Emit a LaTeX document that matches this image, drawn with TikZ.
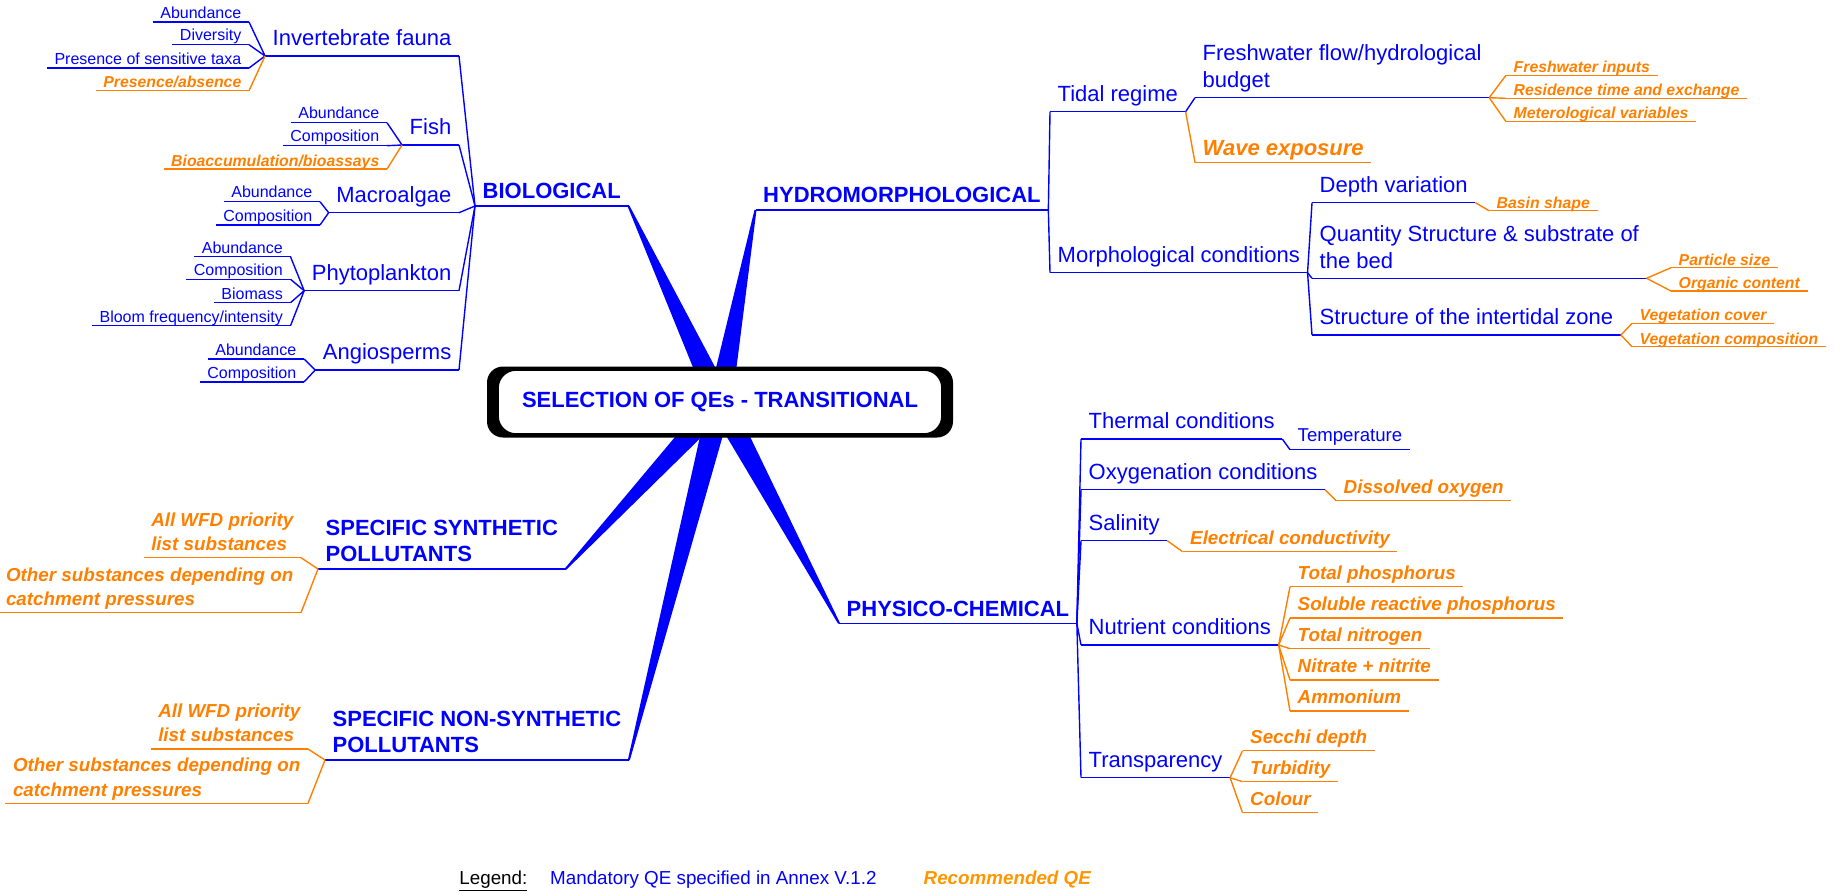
\documentclass[tikz,border=0pt]{standalone}
\usepackage{fontspec}
\setmainfont{Liberation Sans}
\usetikzlibrary{calc}
\definecolor{qeblue}{RGB}{0,0,255}
\definecolor{qeorange}{RGB}{255,128,0}
\definecolor{qeamber}{RGB}{255,150,0}
\tikzset{
  mq/.style={inner xsep=3.5pt, inner ysep=0pt, text=qeblue,
    append after command={(\tikzlastnode.south west) edge[qeblue] (\tikzlastnode.south east)}},
  rq/.style={inner xsep=3.5pt, inner ysep=0pt, text=qeorange,
    append after command={(\tikzlastnode.south west) edge[qeorange] (\tikzlastnode.south east)}},
  head/.style={mq, font=\fontsize{11}{13}\selectfont\bfseries, text depth=3.25pt, align=left},
  sub/.style={mq, font=\fontsize{11}{13.5}\selectfont, text depth=4.75pt, align=left},
  leaf/.style={mq, font=\fontsize{8}{10}\selectfont, text depth=1.5pt},
  mleaf/.style={mq, font=\fontsize{9.3}{11}\selectfont, text depth=4pt},
  rsub/.style={rq, font=\fontsize{11}{13}\selectfont\bfseries\itshape, text depth=3pt},
  rleaf/.style={rq, font=\fontsize{7.9}{9.5}\selectfont\bfseries\itshape, text depth=1pt},
  rmleaf/.style={rq, font=\fontsize{9.4}{12.2}\selectfont\bfseries\itshape, text depth=3.25pt, align=left},
  bezel/.style={fill=black, rounded corners=8pt, minimum width=233pt, minimum height=35.5pt},
  ctr/.style={draw=black, line width=0.8pt, fill=white, rounded corners=9pt,
    minimum width=222pt, minimum height=32pt, text=qeblue,
    font=\fontsize{11}{13}\selectfont\bfseries},
}
\begin{document}
\begin{tikzpicture}[x=0.5pt, y=-0.5pt, line width=0.7pt]
  \useasboundingbox (0,0) rectangle (1834,893);

  % biological
  \node[head, anchor=south west] (bio) at (475,206) {BIOLOGICAL};
  \node[sub, anchor=south east] (inv) at (459,56) {Invertebrate fauna};
  \node[sub, anchor=south east] (fish) at (459,145) {Fish};
  \node[sub, anchor=south east] (macro) at (459,212.7) {Macroalgae};
  \node[sub, anchor=south east] (phyto) at (459,290.7) {Phytoplankton};
  \node[sub, anchor=south east] (angio) at (459,370) {Angiosperms};
  \node[leaf, anchor=south east] (invab) at (249,22) {Abundance};
  \node[leaf, anchor=south east] (invdiv) at (249,44.7) {Diversity};
  \node[leaf, anchor=south east] (invsens) at (249,68) {Presence of sensitive taxa};
  \node[rleaf, anchor=south east] (invpres) at (249,90.7) {Presence/absence};
  \node[leaf, anchor=south east] (fishab) at (387,122.7) {Abundance};
  \node[leaf, anchor=south east] (fishcomp) at (387,145.7) {Composition};
  \node[rleaf, anchor=south east] (fishbio) at (387,169) {Bioaccumulation/bioassays};
  \node[leaf, anchor=south east] (macab) at (320,201.7) {Abundance};
  \node[leaf, anchor=south east] (maccomp) at (320,225) {Composition};
  \node[leaf, anchor=south east] (phyab) at (290.5,256.7) {Abundance};
  \node[leaf, anchor=south east] (phycomp) at (290.5,279.3) {Composition};
  \node[leaf, anchor=south east] (phybiom) at (290.5,302.7) {Biomass};
  \node[leaf, anchor=south east] (phybloom) at (290.5,325.7) {Bloom frequency/intensity};
  \node[leaf, anchor=south east] (angab) at (304,359) {Abundance};
  \node[leaf, anchor=south east] (angcomp) at (304,382) {Composition};

  % hydromorphological
  \node[head, anchor=south west] (hydro) at (755.5,210) {HYDROMORPHOLOGICAL};
  \node[sub, anchor=south west] (tidal) at (1050,111.7) {Tidal regime};
  \node[sub, anchor=south west] (morph) at (1050,272.7) {Morphological conditions};
  \node[sub, anchor=south west] (fresh) at (1195,97.7) {Freshwater flow/hydrological\\budget};
  \node[rsub, anchor=south west] (wave) at (1195,162.7) {Wave exposure};
  \node[rleaf, anchor=south west] (fwin) at (1506,75.3) {Freshwater inputs};
  \node[rleaf, anchor=south west] (restime) at (1506,98.3) {Residence time and exchange};
  \node[rleaf, anchor=south west] (meteo) at (1506,121.7) {Meterological variables};
  \node[sub, anchor=south west] (depth) at (1312,202.7) {Depth variation};
  \node[sub, anchor=south west] (quant) at (1312,278.3) {Quantity Structure \& substrate of\\the bed};
  \node[sub, anchor=south west] (inter) at (1312,335) {Structure of the intertidal zone};
  \node[rleaf, anchor=south west] (basin) at (1489,210.7) {Basin shape};
  \node[rleaf, anchor=south west] (partic) at (1671,267.7) {Particle size};
  \node[rleaf, anchor=south west] (organic) at (1671,291) {Organic content};
  \node[rleaf, anchor=south west] (vegcov) at (1632,323.3) {Vegetation cover};
  \node[rleaf, anchor=south west] (vegcomp) at (1632,346.7) {Vegetation composition};

  % physico-chemical
  \node[head, anchor=south west] (phys) at (839,623.3) {PHYSICO-CHEMICAL};
  \node[sub, anchor=south west] (thermal) at (1081,439) {Thermal conditions};
  \node[sub, anchor=south west] (oxy) at (1081,489.7) {Oxygenation conditions};
  \node[sub, anchor=south west] (salin) at (1081,540.7) {Salinity};
  \node[sub, anchor=south west] (nutr) at (1081,645) {Nutrient conditions};
  \node[sub, anchor=south west] (transp) at (1081,777.7) {Transparency};
  \node[mleaf, anchor=south west] (temp) at (1290,449.7) {Temperature};
  \node[rmleaf, anchor=south west] (dissox) at (1336,500.7) {Dissolved oxygen};
  \node[rmleaf, anchor=south west] (elcond) at (1182.5,551.7) {Electrical conductivity};
  \node[rmleaf, anchor=south west] (totp) at (1290,586.7) {Total phosphorus};
  \node[rmleaf, anchor=south west] (srp) at (1290,618) {Soluble reactive phosphorus};
  \node[rmleaf, anchor=south west] (totn) at (1290,648.7) {Total nitrogen};
  \node[rmleaf, anchor=south west] (nitr) at (1290,680) {Nitrate + nitrite};
  \node[rmleaf, anchor=south west] (ammon) at (1290,711) {Ammonium};
  \node[rmleaf, anchor=south west] (secchi) at (1242.5,750.7) {Secchi depth};
  \node[rmleaf, anchor=south west] (turb) at (1242.5,781.7) {Turbidity};
  \node[rmleaf, anchor=south west] (colour) at (1242.5,812.7) {Colour};

  % pollutants
  \node[head, anchor=south west] (synth) at (318,569) {SPECIFIC SYNTHETIC\\POLLUTANTS};
  \node[rmleaf, anchor=south east] (syprio) at (301,557.7) {All WFD priority\\list substances};
  \node[rmleaf, anchor=south east] (syother) at (301,612.7) {Other substances depending on\\catchment pressures};
  \node[head, anchor=south west] (nsynth) at (325,760) {SPECIFIC NON-SYNTHETIC\\POLLUTANTS};
  \node[rmleaf, anchor=south east] (nsprio) at (308,749) {All WFD priority\\list substances};
  \node[rmleaf, anchor=south east] (nsother) at (308,803.3) {Other substances depending on\\catchment pressures};

  \begin{scope}[qeblue]
    \draw (inv.south east) to (bio.south west);
    \draw (fish.south east) to (bio.south west);
    \draw (macro.south east) to (bio.south west);
    \draw (phyto.south east) to (bio.south west);
    \draw (angio.south east) to (bio.south west);
    \draw (invab.south east) to (inv.south west);
    \draw (invdiv.south east) to (inv.south west);
    \draw (invsens.south east) to (inv.south west);
    \draw (fishab.south east) to (fish.south west);
    \draw (fishcomp.south east) to (fish.south west);
    \draw (macab.south east) to (macro.south west);
    \draw (maccomp.south east) to (macro.south west);
    \draw (phyab.south east) to (phyto.south west);
    \draw (phycomp.south east) to (phyto.south west);
    \draw (phybiom.south east) to (phyto.south west);
    \draw (phybloom.south east) to (phyto.south west);
    \draw (angab.south east) to (angio.south west);
    \draw (angcomp.south east) to (angio.south west);
    \draw (hydro.south east) to (tidal.south west);
    \draw (hydro.south east) to (morph.south west);
    \draw (tidal.south east) to (fresh.south west);
    \draw (morph.south east) to (depth.south west);
    \draw (morph.south east) to (quant.south west);
    \draw (morph.south east) to (inter.south west);
    \draw (phys.south east) to (thermal.south west);
    \draw (phys.south east) to (oxy.south west);
    \draw (phys.south east) to (salin.south west);
    \draw (phys.south east) to (nutr.south west);
    \draw (phys.south east) to (transp.south west);
    \draw (thermal.south east) to (temp.south west);
  \end{scope}
  \begin{scope}[qeorange]
    \draw (invpres.south east) to (inv.south west);
    \draw (fishbio.south east) to (fish.south west);
    \draw (tidal.south east) to (wave.south west);
    \draw (fresh.south east) to (fwin.south west);
    \draw (fresh.south east) to (restime.south west);
    \draw (fresh.south east) to (meteo.south west);
    \draw (depth.south east) to (basin.south west);
    \draw (quant.south east) to (partic.south west);
    \draw (quant.south east) to (organic.south west);
    \draw (inter.south east) to (vegcov.south west);
    \draw (inter.south east) to (vegcomp.south west);
    \draw (oxy.south east) to (dissox.south west);
    \draw (salin.south east) to (elcond.south west);
    \draw (nutr.south east) to (totp.south west);
    \draw (nutr.south east) to (srp.south west);
    \draw (nutr.south east) to (totn.south west);
    \draw (nutr.south east) to (nitr.south west);
    \draw (nutr.south east) to (ammon.south west);
    \draw (transp.south east) to (secchi.south west);
    \draw (transp.south east) to (turb.south west);
    \draw (transp.south east) to (colour.south west);
    \draw (syprio.south east) to (synth.south west);
    \draw (syother.south east) to (synth.south west);
    \draw (nsprio.south east) to (nsynth.south west);
    \draw (nsother.south east) to (nsynth.south west);
  \end{scope}

  % tapered spokes to the centre
  \coordinate (hub) at (720,402);
  \fill[qeblue] ($(hub)!6pt!90:(bio.south east)$) -- ($(bio.south east)!0.5pt!-90:(hub)$) -- ($(bio.south east)!0.5pt!90:(hub)$) -- ($(hub)!6pt!-90:(bio.south east)$) -- cycle;
  \fill[qeblue] ($(hub)!6pt!90:(hydro.south west)$) -- ($(hydro.south west)!0.5pt!-90:(hub)$) -- ($(hydro.south west)!0.5pt!90:(hub)$) -- ($(hub)!6pt!-90:(hydro.south west)$) -- cycle;
  \fill[qeblue] ($(hub)!6pt!90:(phys.south west)$) -- ($(phys.south west)!0.5pt!-90:(hub)$) -- ($(phys.south west)!0.5pt!90:(hub)$) -- ($(hub)!6pt!-90:(phys.south west)$) -- cycle;
  \fill[qeblue] ($(hub)!6pt!90:(synth.south east)$) -- ($(synth.south east)!0.5pt!-90:(hub)$) -- ($(synth.south east)!0.5pt!90:(hub)$) -- ($(hub)!6pt!-90:(synth.south east)$) -- cycle;
  \fill[qeblue] ($(hub)!6pt!90:(nsynth.south east)$) -- ($(nsynth.south east)!0.5pt!-90:(hub)$) -- ($(nsynth.south east)!0.5pt!90:(hub)$) -- ($(hub)!6pt!-90:(nsynth.south east)$) -- cycle;

  \node[bezel] (bez) at (720,402) {};
  \node[ctr] (ctr) at (bez) {SELECTION OF QEs - TRANSITIONAL\hspace{8pt}};

  % legend
  \node[anchor=base west, inner sep=0pt, font=\fontsize{9.4}{11}\selectfont] (lgd) at (458.7,884) {\underline{Legend:}};
  \node[anchor=base west, inner sep=0pt, text=qeblue, font=\fontsize{9.4}{11}\selectfont] (lgdm) at (549.5,884) {Mandatory QE specified in Annex V.1.2};
  \node[anchor=base west, inner sep=0pt, text=qeamber, font=\fontsize{9.4}{11}\selectfont\bfseries\itshape] (lgdr) at (923,884) {Recommended QE};
\end{tikzpicture}
\end{document}
